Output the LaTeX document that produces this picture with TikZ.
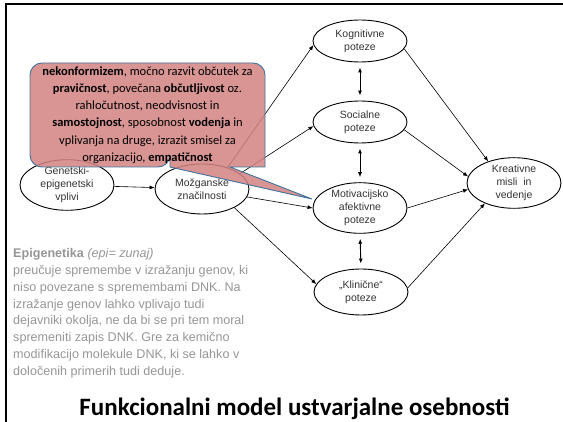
\documentclass[tikz,border=0pt]{standalone}
\usepackage{fontspec}
\setmainfont{Liberation Sans}
\newfontfamily\calibri{Carlito}
\usetikzlibrary{arrows.meta, positioning, shapes.geometric}
\definecolor{calloutfill}{RGB}{210,131,129}
\definecolor{calloutline}{RGB}{65,113,156}
\definecolor{notegray}{RGB}{150,150,150}

\begin{document}
\begin{tikzpicture}[x=1pt, y=-1pt,
        trait/.style={ellipse, draw, line width=0.9pt, inner sep=0pt, minimum width=94pt,
            minimum height=42pt, align=center, text=black!80, font=\fontsize{10.5}{13}\selectfont},
        link/.style={-{Latex[length=5pt,width=4pt]}, line width=0.6pt},
        both/.style={{Latex[length=5pt,width=4pt]}-{Latex[length=5pt,width=4pt]},
            line width=0.9pt, shorten <=5pt, shorten >=5pt},
        callout/.style={fill=calloutfill, fill opacity=0.85, draw=calloutline, line width=0.9pt}]

    \useasboundingbox (0,0) rectangle (563,422);

    % slide frame
    \draw[line width=2.5pt, line join=miter] (6,422) -- (6,4) -- (563,4);

    % traits
    \node[trait, minimum height=46pt] (gen) at (67,185) {Genetski-\\epigenetski\\vplivi};
    \node[trait, minimum height=50pt] (moz) at (202,189) {Možganske\\značilnosti};
    \node[trait] (kog) at (360,41) {Kognitivne\\poteze};
    \node[trait] (soc) at (360,122) {Socialne\\poteze};
    \node[trait, minimum height=48pt] (mot) at (360,208) {Motivacijsko\\afektivne\\poteze};
    \node[trait, minimum height=46pt] (kli) at (361,292) {„Klinične“\\poteze};
    \node[trait, minimum height=50pt] (kre) at (514,183) {Kreativne\\misli~ in\\vedenje};

    \draw[link] (gen) -- (moz);
    \draw[link] (moz.40) -- (kog.185);
    \draw[link] (moz.22) -- (soc.185);
    \draw[link] (moz.-10) -- (mot.west);
    \draw[link] (moz.-30) -- (kli.170);

    \draw[both] (kog.south) -- (soc.north);
    \draw[both] (soc.south) -- (mot.north);
    \draw[both] (mot.south) -- (kli.north);

    \draw[link] (kog.-10) -- (kre.140);
    \draw[link] (soc.-10) -- (kre.172);
    \draw[link] (mot.east) -- (kre.188);
    \draw[link] (kli.5) -- (kre.215);

    % callout over the diagram
    \coordinate (tip) at (312,199);
    \path[callout] (170,167) -- (tip) -- (230,167) -- (265,167) [rounded corners=12pt]
        -- (265,63) -- (30,63) -- (30,167) -- (170,167) [sharp corners] -- cycle;
    \node[align=center, inner sep=0pt,
          font=\calibri\fontsize{12.5}{17.2}\selectfont] (traits) at (147.5,115)
        {\textbf{nekonformizem}, močno razvit občutek za\\
         \textbf{pravičnost}, povečana \textbf{občutljivost} oz.\\
         rahločutnost, neodvisnost in\\
         \textbf{samostojnost}, sposobnost \textbf{vodenja} in\\
         vplivanja na druge, izrazit smisel za\\
         organizacijo, \textbf{empatičnost}};

    \node[anchor=north west, align=left, inner sep=0pt, text=notegray,
          font=\fontsize{12.6}{16.9}\selectfont] (note) at (13,248)
        {\textbf{Epigenetika} \textit{(epi= zunaj)}\\
         preučuje spremembe v izražanju genov, ki\\
         niso povezane s spremembami DNK. Na\\
         izražanje genov lahko vplivajo tudi\\
         dejavniki okolja, ne da bi se pri tem moral\\
         spremeniti zapis DNK. Gre za kemično\\
         modifikacijo molekule DNK, ki se lahko v\\
         določenih primerih tudi deduje.};

    \node[font=\calibri\bfseries\fontsize{25}{29}\selectfont] (title) at (294.5,409)
        {Funkcionalni model ustvarjalne osebnosti};
\end{tikzpicture}
\end{document}
